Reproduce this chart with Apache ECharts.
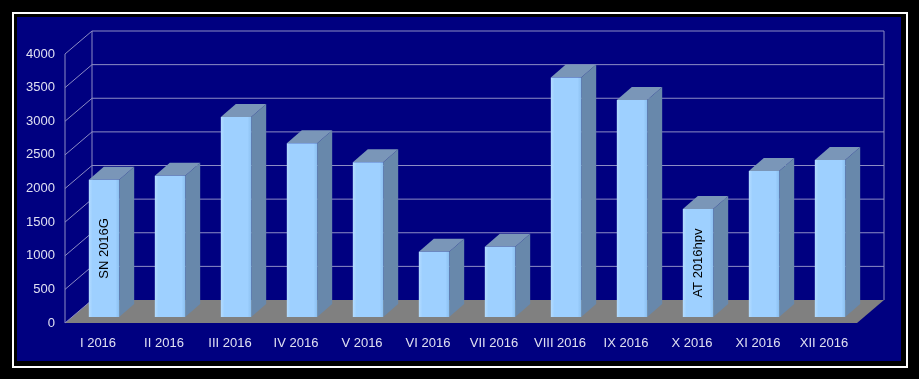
<!DOCTYPE html>
<html>
<head>
<meta charset="utf-8">
<script src="https://cdn.jsdelivr.net/npm/echarts@6/dist/echarts.min.js"></script>
<style>
  html, body { margin:0; padding:0; background:#000; width:919px; height:379px; overflow:hidden; }
  #frame { position:absolute; left:12px; top:12px; width:892px; height:352px; border:2px solid #fff; box-sizing:content-box; }
  #navy { position:absolute; left:17px; top:17px; width:884px; height:344px; background:#000080; }
  #chart { position:absolute; left:0; top:0; width:919px; height:379px; }
</style>
</head>
<body>
<div id="frame"></div>
<div id="navy"></div>
<div id="chart"></div>
<script>
const categories = ['I 2016','II 2016','III 2016','IV 2016','V 2016','VI 2016','VII 2016','VIII 2016','IX 2016','X 2016','XI 2016','XII 2016'];
const values = [2040, 2100, 2975, 2585, 2300, 970, 1045, 3560, 3225, 1605, 2170, 2335];
const annotations = ['SN 2016G','','','','','','','','','AT 2016hpv','',''];
const yTicks = [0, 500, 1000, 1500, 2000, 2500, 3000, 3500, 4000];

const FONT = "'Liberation Sans', Arial, sans-serif";
const WALL = { dx: 27, dy: 23 };      // depth of the 3D box
const BAROFF = { dx: 6, dy: 6 };      // bar position within depth
const BARD = { dx: 15, dy: 13 };      // bar depth
const LINE = '#8c8cc4';

const chart = echarts.init(document.getElementById('chart'), null, { renderer: 'canvas' });

function renderScene(params, api) {
  const cs = params.coordSys;
  const x0 = cs.x, x1 = cs.x + cs.width;
  const y0 = api.coord([0, 0])[1];
  const children = [];
  children.push({
    type: 'polygon',
    shape: { points: [[x0, y0], [x1, y0], [x1 + WALL.dx, y0 - WALL.dy], [x0 + WALL.dx, y0 - WALL.dy]] },
    style: { fill: '#808080' }
  });
  const yTop = api.coord([0, yTicks[yTicks.length - 1]])[1];
  yTicks.forEach(function (t) {
    const y = api.coord([0, t])[1];
    if (t > 0) {
      children.push({ type: 'line', shape: { x1: x0 + WALL.dx, y1: y - WALL.dy, x2: x1 + WALL.dx, y2: y - WALL.dy },
        style: { stroke: LINE, lineWidth: 1 } });
    }
    children.push({ type: 'line', shape: { x1: x0, y1: y, x2: x0 + WALL.dx, y2: y - WALL.dy },
      style: { stroke: LINE, lineWidth: 1 } });
  });
  children.push({ type: 'line', shape: { x1: x0, y1: y0, x2: x0, y2: yTop }, style: { stroke: LINE, lineWidth: 1 } });
  children.push({ type: 'line', shape: { x1: x0 + WALL.dx, y1: y0 - WALL.dy, x2: x0 + WALL.dx, y2: yTop - WALL.dy }, style: { stroke: LINE, lineWidth: 1 } });
  children.push({ type: 'line', shape: { x1: x1 + WALL.dx, y1: y0 - WALL.dy, x2: x1 + WALL.dx, y2: yTop - WALL.dy }, style: { stroke: LINE, lineWidth: 1 } });
  return { type: 'group', children: children };
}

function renderBar(params, api) {
  const i = api.value(0);
  const v = api.value(1);
  const top = api.coord([i, v]);
  const base = api.coord([i, 0]);
  const bw = api.size([1, 0])[0] * 0.46;
  const cx = top[0] + BAROFF.dx;
  const xl = cx - bw / 2, xr = cx + bw / 2;
  const yt = top[1] - BAROFF.dy, yb = base[1] - BAROFF.dy;
  const children = [
    { type: 'polygon', shape: { points: [[xr, yt], [xr + BARD.dx, yt - BARD.dy], [xr + BARD.dx, yb - BARD.dy], [xr, yb]] },
      style: { fill: '#6888ab' } },
    { type: 'polygon', shape: { points: [[xl, yt], [xl + BARD.dx, yt - BARD.dy], [xr + BARD.dx, yt - BARD.dy], [xr, yt]] },
      style: { fill: '#7a96b8' } },
    { type: 'rect', shape: { x: xl, y: yt, width: bw, height: yb - yt },
      style: { fill: new echarts.graphic.LinearGradient(0, 0, 1, 0, [
        { offset: 0, color: '#b4dcff' }, { offset: 0.12, color: '#9ed0ff' },
        { offset: 0.88, color: '#9ed0ff' }, { offset: 1, color: '#8cc0f0' }]) } }
  ];
  const label = annotations[i];
  if (label) {
    children.push({ type: 'text', x: cx, y: (yt + yb) / 2, rotation: Math.PI / 2,
      style: { text: label, fill: '#000', font: '13px ' + FONT, align: 'center', verticalAlign: 'middle' } });
  }
  return { type: 'group', children: children };
}

chart.setOption({
  backgroundColor: 'transparent',
  animation: false,
  grid: { left: 65, right: 62, top: 54, bottom: 56, containLabel: false },
  xAxis: {
    type: 'category', data: categories,
    axisLine: { show: false }, axisTick: { show: false }, splitLine: { show: false },
    axisLabel: { color: '#e0e0f2', fontFamily: FONT, fontSize: 13, margin: 14, interval: 0 }
  },
  yAxis: {
    type: 'value', min: 0, max: 4000, interval: 500,
    axisLine: { show: false }, axisTick: { show: false }, splitLine: { show: false },
    axisLabel: { color: '#e0e0f2', fontFamily: FONT, fontSize: 13, margin: 10,
      formatter: function (v) { return String(v); } }
  },
  series: [
    { type: 'custom', name: 'scene', renderItem: renderScene, data: [[0, 0]], clip: false, silent: true, z: 1 },
    { type: 'custom', name: 'bars', renderItem: renderBar, clip: false, z: 2,
      encode: { x: 0, y: 1 },
      data: values.map(function (v, i) { return [i, v]; }) }
  ]
});
</script>
</body>
</html>
